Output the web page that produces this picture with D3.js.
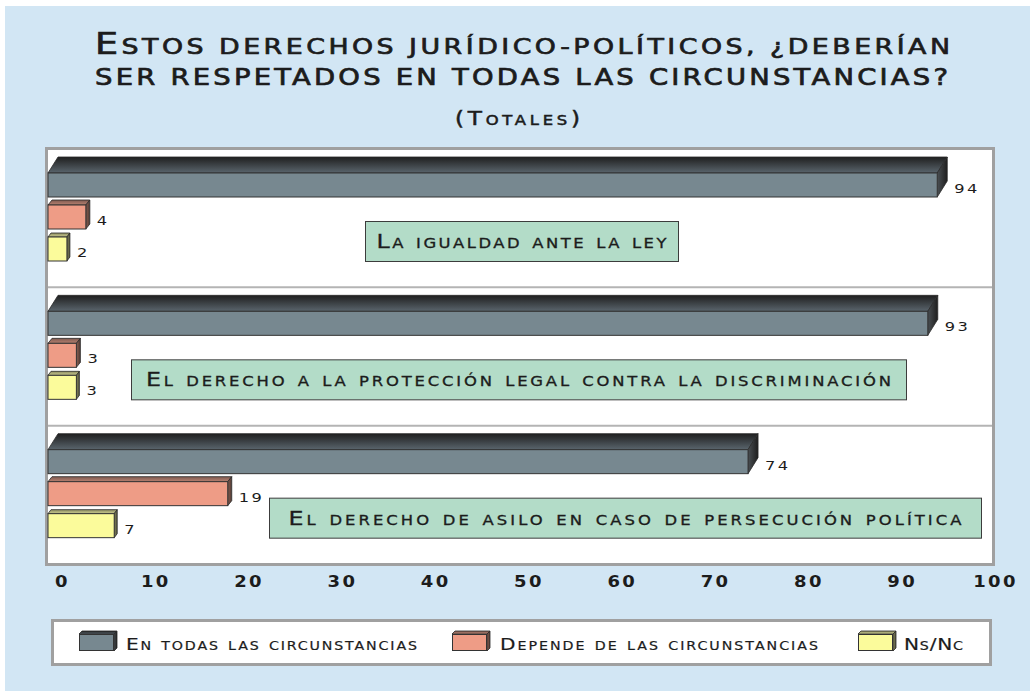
<!DOCTYPE html>
<html>
<head>
<meta charset="utf-8">
<script src="https://cdn.jsdelivr.net/npm/d3@7"></script>
<style>
  html, body { margin: 0; padding: 0; background: #ffffff; }
  svg text { font-family: "DejaVu Sans", sans-serif; fill: #1c1c1c; }
  .sc { font-variant: small-caps; }
  .up { text-transform: uppercase; }
</style>
</head>
<body>
<svg id="chart" width="1030" height="691"></svg>
<script>
// data
const categories = [
    "La igualdad ante la ley",
    "El derecho a la protección legal contra la discriminación",
    "El derecho de asilo en caso de persecución política"
];
const seriesNames = ["En todas las circunstancias", "Depende de las circunstancias", "Ns/Nc"];
const todas = [94, 93, 74];
const depende = [4, 3, 19];
const nsnc = [2, 3, 7];
const tickValues = [0, 10, 20, 30, 40, 50, 60, 70, 80, 90, 100];

const titleLine1 = ["E", "stos derechos jurídico-políticos, ¿deberían"];
const titleLine2 = "ser respetados en todas las circunstancias?";
const subtitle = "(Totales)";

// looks
const seriesStyle = [
    { front: "#778890", top: ["#1f1f1f", "#5a656d"], side: ["#4a4f53", "#1e1e1e"], dx: 10, dy: 16 },
    { front: "#ee9c86", top: ["#7d5a50", "#b98271"], side: ["#8a5f52", "#4f3a33"], dx: 4, dy: 5 },
    { front: "#fbfb9b", top: ["#8d8d62", "#caca8e"], side: ["#85855e", "#50503a"], dx: 3, dy: 4 }
];
const boxLayout = [
    { x0: 365, x1: 678, textWidth: 290 },
    { x0: 131, x1: 906, textWidth: 745 },
    { x0: 269, x1: 981, textWidth: 673 }
];
const legendLayout = [
    { x: 79, textX: 126, textWidth: 291 },
    { x: 452, textX: 500, textWidth: 318 },
    { x: 858, textX: 904, textWidth: 59 }
];
const SX = 1.22; // horizontal stretch for the wide lettering

const svg = d3.select("#chart");

// background
svg.append("rect").attr("x", 5).attr("y", 6).attr("width", 1025).attr("height", 685).attr("fill", "#d2e6f4");

// titles
const t1 = svg.append("text")
    .attr("transform", `translate(95,54) scale(${SX},1)`)
    .attr("textLength", 855 / SX)
    .attr("lengthAdjust", "spacing")
    .style("stroke", "#1c1c1c")
    .style("stroke-width", "0.7px");
t1.append("tspan").style("font-size", "30px").text(titleLine1[0]);
t1.append("tspan").attr("class", "up").style("font-size", "22px").text(titleLine1[1]);

svg.append("text")
    .attr("class", "up")
    .attr("transform", `translate(95,85) scale(${SX},1)`)
    .attr("textLength", 853 / SX)
    .attr("lengthAdjust", "spacing")
    .style("font-size", "22.5px")
    .style("stroke", "#1c1c1c")
    .style("stroke-width", "0.7px")
    .text(titleLine2);

svg.append("text")
    .attr("class", "sc")
    .attr("transform", `translate(455,125) scale(${SX},1)`)
    .attr("textLength", 125 / SX)
    .attr("lengthAdjust", "spacing")
    .style("font-size", "19px")
    .style("stroke", "#1c1c1c")
    .style("stroke-width", "0.5px")
    .text(subtitle);

// plot frame
const frame = { left: 45, top: 147, right: 995, bottom: 566 };
svg.append("rect")
    .attr("x", frame.left + 1.5).attr("y", frame.top + 1.5)
    .attr("width", frame.right - frame.left - 3).attr("height", frame.bottom - frame.top - 3)
    .attr("fill", "#ffffff").attr("stroke", "#a0a0a0").attr("stroke-width", 3);

// scales
const x = d3.scaleLinear().domain([0, 100]).range([48, 994]);
const tickScale = d3.scaleLinear().domain([0, 100]).range([62, 995]);
const y0 = d3.scaleBand().domain(categories).range([149, 564]);
const y1 = d3.scaleBand().domain(seriesNames).range([24, 112]).paddingInner(0.25);

// band dividers
svg.selectAll(".divider")
    .data(categories.slice(1))
    .enter().append("line")
    .attr("x1", 48).attr("x2", frame.right - 3)
    .attr("y1", d => y0(d)).attr("y2", d => y0(d))
    .attr("stroke", "#b4b4b4").attr("stroke-width", 2);

// gradients
const defs = svg.append("defs");
seriesStyle.forEach((s, i) => {
    const gt = defs.append("linearGradient").attr("id", "top" + i)
        .attr("x1", 0).attr("y1", 0).attr("x2", 0).attr("y2", 1);
    gt.append("stop").attr("offset", "0%").attr("stop-color", s.top[0]);
    gt.append("stop").attr("offset", "100%").attr("stop-color", s.top[1]);
    const gs = defs.append("linearGradient").attr("id", "side" + i)
        .attr("x1", 0).attr("y1", 0).attr("x2", 1).attr("y2", 0);
    gs.append("stop").attr("offset", "0%").attr("stop-color", s.side[0]);
    gs.append("stop").attr("offset", "100%").attr("stop-color", s.side[1]);
});

const seriesValues = [todas, depende, nsnc];
const bars = [];
categories.forEach((c, ci) => {
    seriesNames.forEach((s, si) => {
        bars.push({ cat: c, series: s, si: si, value: seriesValues[si][ci] });
    });
});

const bar = svg.append("g").selectAll(".bar")
    .data(bars)
    .enter().append("g")
    .attr("class", "bar");

function geom(d) {
    const st = seriesStyle[d.si];
    return {
        x0: x(0), x1: x(d.value),
        yt: y0(d.cat) + y1(d.series), h: y1.bandwidth(),
        dx: st.dx, dy: st.dy
    };
}

bar.append("path")
    .attr("d", d => {
        const g = geom(d);
        return `M${g.x0},${g.yt}L${g.x0 + g.dx},${g.yt - g.dy}L${g.x1 + g.dx},${g.yt - g.dy}L${g.x1},${g.yt}Z`;
    })
    .attr("fill", d => `url(#top${d.si})`)
    .attr("stroke", "#2a2a2a").attr("stroke-width", 0.8);

bar.append("path")
    .attr("d", d => {
        const g = geom(d);
        return `M${g.x1},${g.yt}L${g.x1 + g.dx},${g.yt - g.dy}L${g.x1 + g.dx},${g.yt + g.h - g.dy}L${g.x1},${g.yt + g.h}Z`;
    })
    .attr("fill", d => `url(#side${d.si})`)
    .attr("stroke", "#2a2a2a").attr("stroke-width", 0.8);

bar.append("rect")
    .attr("x", d => x(0))
    .attr("y", d => y0(d.cat) + y1(d.series))
    .attr("width", d => x(d.value) - x(0))
    .attr("height", y1.bandwidth())
    .attr("fill", d => seriesStyle[d.si].front)
    .attr("stroke", "#333333").attr("stroke-width", 1);

bar.append("text")
    .attr("transform", d => `translate(${x(d.value) + seriesStyle[d.si].dx + 7},${y0(d.cat) + y1(d.series) + y1.bandwidth() / 2 + 8}) scale(1.25,1)`)
    .style("font-size", "13px")
    .style("letter-spacing", "2px")
    .text(d => d.value);

// category label boxes
const boxes = svg.selectAll(".catbox")
    .data(categories)
    .enter().append("g")
    .attr("class", "catbox");

boxes.append("rect")
    .attr("x", (d, i) => boxLayout[i].x0 + 0.5)
    .attr("y", d => y0(d) + 72.5)
    .attr("width", (d, i) => boxLayout[i].x1 - boxLayout[i].x0)
    .attr("height", 40)
    .attr("fill", "#b3dcc8")
    .attr("stroke", "#3c3c3c").attr("stroke-width", 1);

boxes.append("text")
    .attr("class", "sc")
    .attr("transform", (d, i) => `translate(${(boxLayout[i].x0 + boxLayout[i].x1) / 2},${y0(d) + 72 + 27}) scale(${SX},1)`)
    .attr("text-anchor", "middle")
    .attr("textLength", (d, i) => boxLayout[i].textWidth / SX)
    .attr("lengthAdjust", "spacing")
    .style("font-size", "19.5px")
    .style("stroke", "#1c1c1c")
    .style("stroke-width", "0.3px")
    .text(d => d);

// x axis labels
const axis = svg.append("g")
    .attr("transform", "translate(0,576)")
    .call(d3.axisBottom(tickScale).tickValues(tickValues).tickSize(0).tickPadding(0));
axis.select(".domain").remove();
axis.selectAll("text")
    .attr("dy", "0.71em")
    .attr("transform", "scale(1.2,1)")
    .style("font-family", "'DejaVu Sans', sans-serif")
    .style("font-size", "15px")
    .style("font-weight", "bold")
    .style("letter-spacing", "2px")
    .style("fill", "#1c1c1c");

// legend
svg.append("rect")
    .attr("x", 52.5).attr("y", 620.5).attr("width", 938).attr("height", 44)
    .attr("fill", "#ffffff").attr("stroke", "#a0a0a0").attr("stroke-width", 3);

const leg = svg.selectAll(".legend")
    .data(seriesNames)
    .enter().append("g")
    .attr("class", "legend");

leg.append("path")
    .attr("d", (d, i) => {
        const lx = legendLayout[i].x;
        return `M${lx},634L${lx + 3},631L${lx + 38},631L${lx + 35},634Z`;
    })
    .attr("fill", (d, i) => `url(#top${i})`)
    .attr("stroke", "#2a2a2a").attr("stroke-width", 0.8);
leg.append("path")
    .attr("d", (d, i) => {
        const lx = legendLayout[i].x;
        return `M${lx + 35},634L${lx + 38},631L${lx + 38},648L${lx + 35},651Z`;
    })
    .attr("fill", (d, i) => `url(#side${i})`)
    .attr("stroke", "#2a2a2a").attr("stroke-width", 0.8);
leg.append("rect")
    .attr("x", (d, i) => legendLayout[i].x + 0.5)
    .attr("y", 634.5)
    .attr("width", 34).attr("height", 16)
    .attr("fill", (d, i) => seriesStyle[i].front)
    .attr("stroke", "#333333").attr("stroke-width", 1);
leg.append("text")
    .attr("class", "sc")
    .attr("transform", (d, i) => `translate(${legendLayout[i].textX},650) scale(${SX},1)`)
    .attr("textLength", (d, i) => legendLayout[i].textWidth / SX)
    .attr("lengthAdjust", "spacing")
    .style("font-size", "16.5px")
    .style("stroke", "#1c1c1c")
    .style("stroke-width", "0.2px")
    .text(d => d);
</script>
</body>
</html>
